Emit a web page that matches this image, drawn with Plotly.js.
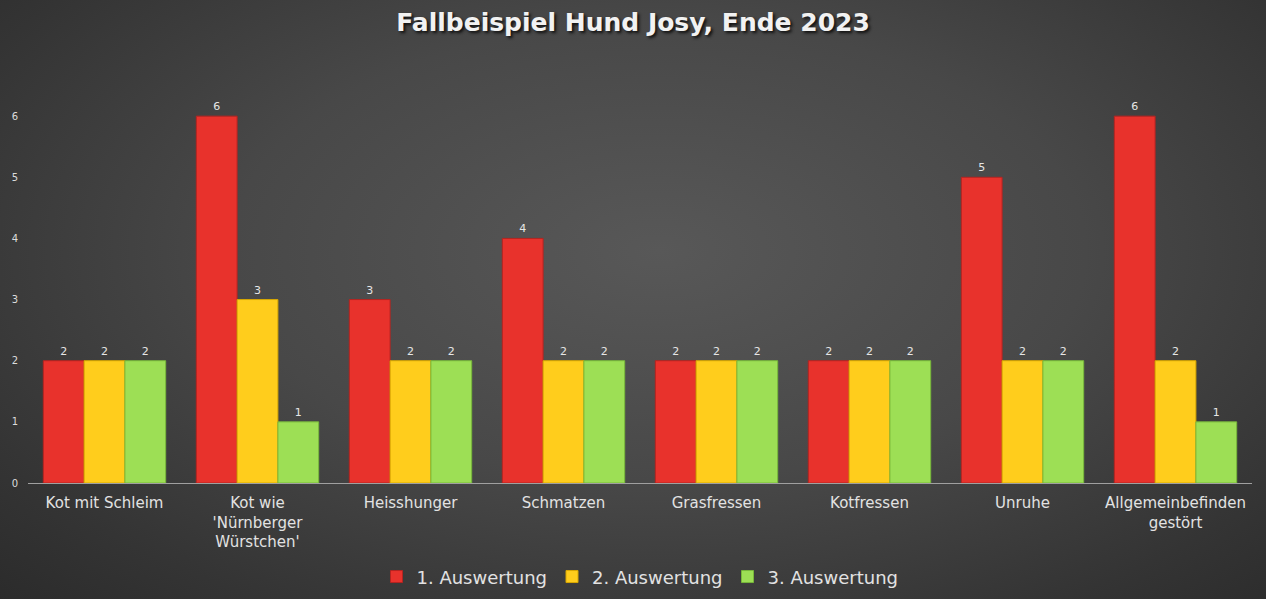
<!DOCTYPE html>
<html><head><meta charset="utf-8">
<script src="https://cdn.plot.ly/plotly-3.0.1.min.js"></script>
<style>
html,body{margin:0;padding:0;width:1266px;height:599px;overflow:hidden;
background:radial-gradient(ellipse 75% 85% at 52% 42%, #585858 0%, #484848 45%, #343434 80%, #2a2a2a 100%);}
#chart{width:1266px;height:599px;}
</style></head><body>
<div id="chart"></div>
<script>
const categories = ["Kot mit Schleim","Kot wie<br>'Nürnberger<br>Würstchen'","Heisshunger","Schmatzen","Grasfressen","Kotfressen","Unruhe","Allgemeinbefinden<br>gestört"];
const series1 = [2,6,3,4,2,2,5,6];
const series2 = [2,3,2,2,2,2,2,2];
const series3 = [2,1,2,2,2,2,2,1];
const seriesNames = ["1. Auswertung","2. Auswertung","3. Auswertung"];
const colors = ["#e8322c","#ffcd1c","#9ddf55"];
const borders = ["#b52420","#d9a800","#78b83a"];

const data = [series1,series2,series3].map((v,i)=>({
  type:'bar', x:categories, y:v, name:seriesNames[i],
  marker:{color:colors[i], line:{color:borders[i], width:1}},
  text:v.map(String), textposition:'outside', cliponaxis:false,
  textfont:{family:'DejaVu Sans', size:11, color:'#e6e6e6'}
}));

const layout = {
  width:1266, height:599,
  paper_bgcolor:'rgba(0,0,0,0)', plot_bgcolor:'rgba(0,0,0,0)',
  margin:{l:28, r:14, t:55, b:116, autoexpand:false},
  barmode:'group', bargap:0.2, bargroupgap:0,
  title:{text:'<b>Fallbeispiel Hund Josy, Ende 2023</b>', x:0.5, xanchor:'center', y:0.963, yanchor:'middle',
    font:{family:'DejaVu Sans', size:25, color:'#f2f2f2', shadow:'2px 2px 3px #111'}},
  xaxis:{automargin:false, showline:true, linecolor:'#a0a0a0', linewidth:1, ticks:'', showgrid:false, ticklabelstandoff:6,
    tickfont:{family:'DejaVu Sans', size:15, color:'#e2e2e2'}},
  yaxis:{automargin:false, range:[0,7], tickvals:[0,1,2,3,4,5,6], showgrid:false, zeroline:false, showline:false,
    ticks:'', ticklen:0, ticklabelstandoff:9, tickfont:{family:'DejaVu Sans', size:10, color:'#dcdcdc'}},
  showlegend:true,
  legend:{orientation:'h', x:0.5, xanchor:'center', yref:'container', y:0.037, yanchor:'middle',
    font:{family:'DejaVu Sans', size:18, color:'#e2e2e2'}, itemwidth:30, traceorder:'normal'}
};
Plotly.newPlot('chart', data, layout, {displayModeBar:false, staticPlot:true});
</script>
</body></html>
